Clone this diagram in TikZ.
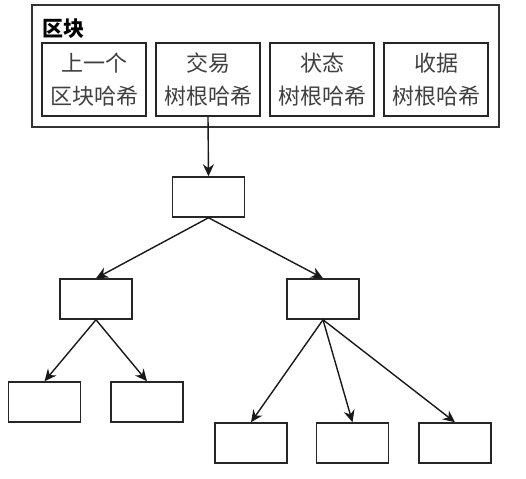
\documentclass[tikz,border=0pt]{standalone}
\usepackage{fontspec}
\newfontfamily\cjk{Noto Sans CJK SC}
\usetikzlibrary{arrows.meta}
\begin{document}
\begin{tikzpicture}[x=1pt,y=-1pt,
  inner/.style={draw=black!85,line width=1.8pt,minimum width=104pt,minimum height=73pt,inner sep=0pt,
    align=center,font=\cjk\fontsize{22}{33}\selectfont,text=black!75},
  tbox/.style={draw=black!85,line width=1.5pt,minimum width=72pt,minimum height=40pt,inner sep=0pt},
  arr/.style={draw=black!90,line width=1.4pt,-{Stealth[length=12pt,width=11pt]}}]
\useasboundingbox (0,0) rectangle (526,478);
% outer block
\node[draw=black!80,line width=1.4pt,minimum width=467pt,minimum height=122pt,inner sep=0pt] (blk) at (265.5,66) {};
\node[font=\cjk\bfseries\fontsize{21}{24}\selectfont,anchor=west,inner sep=0pt] (title) at (42,29) {区块};
\node[inner] (b1) at (94,79.5) {上一个\\区块哈希};
\node[inner] (b2) at (208,79.5) {交易\\树根哈希};
\node[inner] (b3) at (322,79.5) {状态\\树根哈希};
\node[inner] (b4) at (436,79.5) {收据\\树根哈希};
% tree
\node[tbox] (r) at (208.5,197) {};
\node[tbox] (ml) at (96,299) {};
\node[tbox] (mr) at (323,299) {};
\node[tbox] (l1) at (44.5,402) {};
\node[tbox] (l2) at (147,402) {};
\node[tbox] (l3) at (251,443) {};
\node[tbox] (l4) at (352.5,443) {};
\node[tbox] (l5) at (455,443) {};
\draw[arr] (b2.south) -- (r.north);
\draw[arr] (r.south) -- (ml.north);
\draw[arr] (r.south) -- (mr.north);
\draw[arr] (ml.south) -- (l1.north);
\draw[arr] (ml.south) -- (l2.north);
\draw[arr] (mr.south) -- (l3.north);
\draw[arr] (mr.south) -- (l4.north);
\draw[arr] (mr.south) -- (l5.north);
\end{tikzpicture}
\end{document}
